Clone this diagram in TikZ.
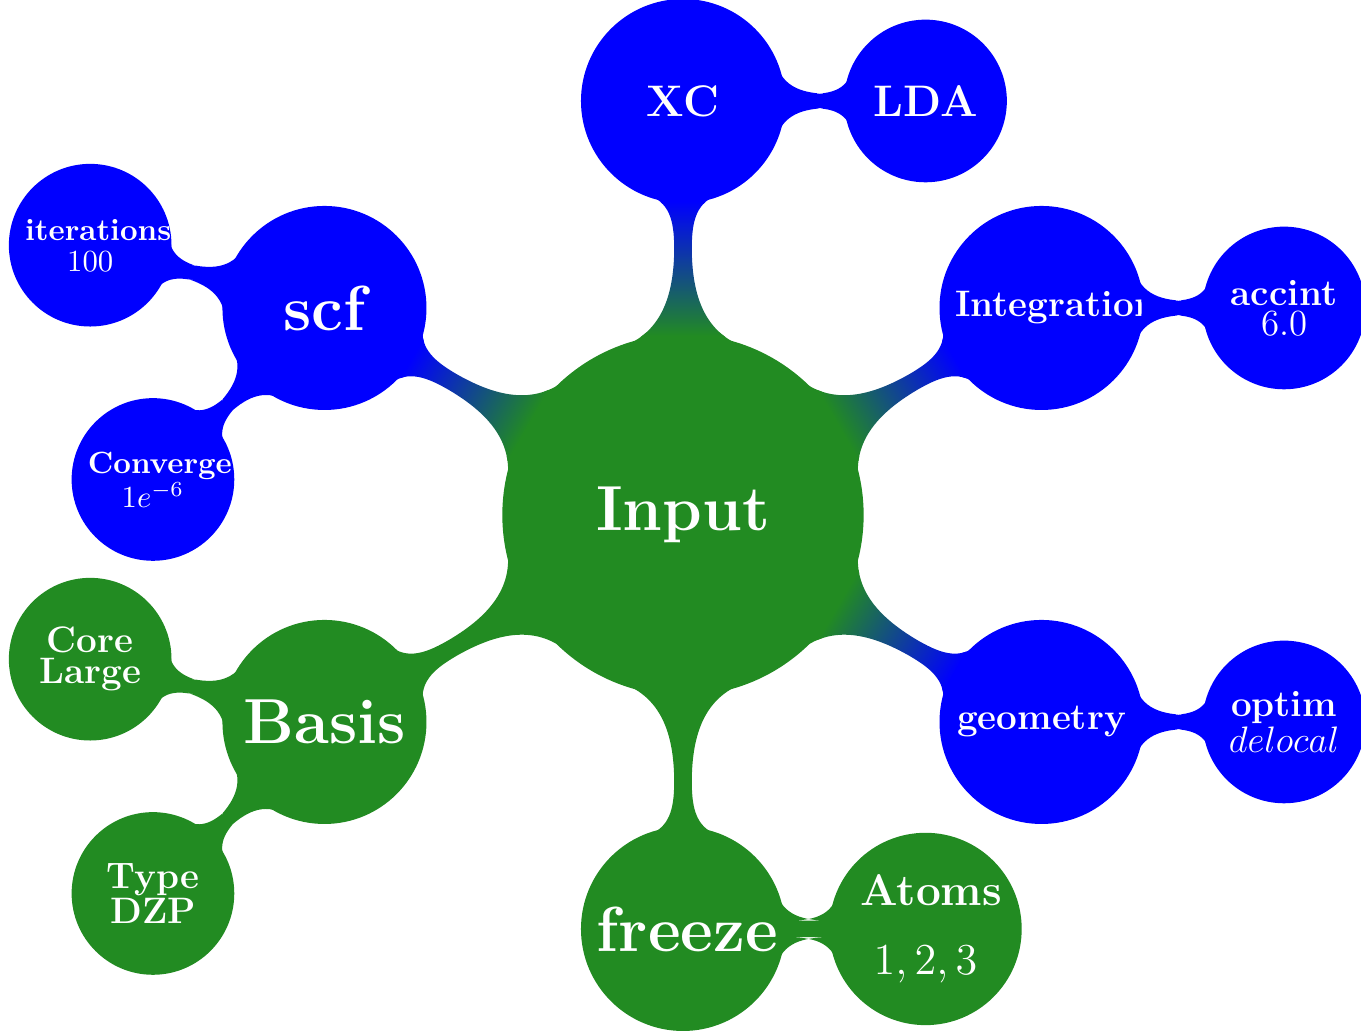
\documentclass[tikz,border=0pt]{standalone}
\usetikzlibrary{mindmap}
\definecolor{forestgreen}{RGB}{34,139,34}
\tikzset{
  inputnode/.style={minimum size=4.095cm, text width=3.5cm, inner sep=1pt, font=\huge\bfseries},
  branchnode/.style={minimum size=2.294cm, text width=1.97cm, inner sep=1pt, font=\large\bfseries},
  leafnode/.style={minimum size=1.82cm, text width=1.49cm, inner sep=1pt, font=\large\bfseries,
    execute at begin node={\baselineskip=10pt}}
}
\begin{document}
\begin{tikzpicture}[mindmap, concept color=forestgreen, text=white,
  level 1/.append style={level distance=4.74cm, sibling angle=60},
  level 2/.append style={level distance=2.777cm, sibling angle=60}]
\useasboundingbox (-7.82,-5.905) rectangle (7.763,5.896);
\path node[concept, inputnode] (input) {Input}
  [clockwise from=90]
  child[concept color=blue] {node[concept, branchnode, font=\Large\bfseries] (xc) {XC}
    child[grow=0] {node[concept, leafnode, font=\Large\bfseries] (lda) {LDA}}}
  child[concept color=blue] {node[concept, branchnode] (integ) {Integration}
    child[grow=0] {node[concept, leafnode] (accint) {accint\\$6.0$}}}
  child[concept color=blue] {node[concept, branchnode] (geom) {geometry}
    child[grow=0] {node[concept, leafnode] (optim) {optim\\$delocal$}}}
  child {node[concept, branchnode, font=\huge\bfseries] (freeze) {freeze}
    child[grow=0] {node[concept, leafnode, font=\Large\bfseries, minimum size=2.16cm] (atoms) {Atoms\\[12.5pt]$1,2,3$}}}
  child {node[concept, branchnode, font=\huge\bfseries] (basis) {Basis}
    [counterclockwise from=165]
    child {node[concept, leafnode] (core) {Core\\Large}}
    child {node[concept, leafnode] (type) {Type\\DZP}}}
  child[concept color=blue] {node[concept, branchnode, font=\huge\bfseries] (scf) {scf}
    [counterclockwise from=165]
    child {node[concept, leafnode, font=\normalsize\bfseries] (iter) {iterations\\$100$}}
    child {node[concept, leafnode, font=\normalsize\bfseries] (conv) {Converge\\$1e^{-6}$}}};
\end{tikzpicture}
\end{document}
